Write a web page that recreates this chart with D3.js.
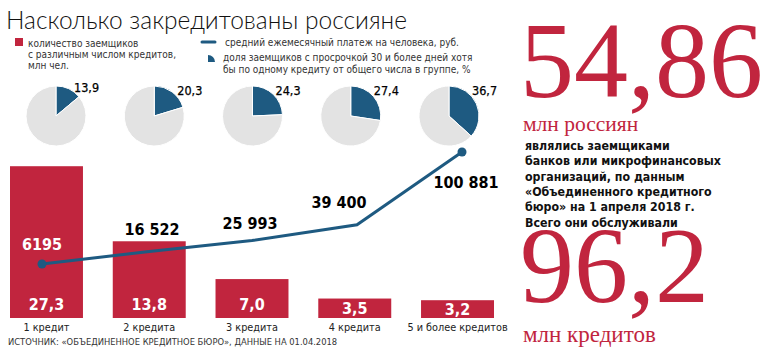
<!DOCTYPE html>
<html><head><meta charset="utf-8">
<script src="https://cdn.jsdelivr.net/npm/d3@7"></script>
<style>
html,body{margin:0;padding:0;background:#fff;}
svg{display:block;}
</style></head>
<body>
<svg id="chart" width="780" height="350"></svg>
<script>
// ---- data ----
const categories = ["1 кредит", "2 кредита", "3 кредита", "4 кредита", "5 и более кредитов"];
const borrowers = [27.3, 13.8, 7.0, 3.5, 3.2];          // млн чел.
const borrowerLabels = ["27,3", "13,8", "7,0", "3,5", "3,2"];
const payments = [6195, 16522, 25993, 39400, 100881];    // руб.
const paymentLabels = ["6195", "16 522", "25 993", "39 400", "100 881"];
const overdue = [13.9, 20.3, 24.3, 27.4, 36.7];          // %
const overdueLabels = ["13,9", "20,3", "24,3", "27,4", "36,7"];

const title = "Насколько закредитованы россияне";
const legendBars = ["количество заемщиков", "с различным числом кредитов,", "млн чел."];
const legendLine = "средний ежемесячный платеж на человека, руб.";
const legendPie = ["доля заемщиков с просрочкой 30 и более дней хотя", "бы по одному кредиту от общего числа в группе, %"];
const source = "ИСТОЧНИК: «ОБЪЕДИНЕННОЕ КРЕДИТНОЕ БЮРО», ДАННЫЕ НА 01.04.2018";
const bigNum1 = "54,86", bigCap1 = "млн россиян";
const bodyText = ["являлись заемщиками", "банков или микрофинансовых", "организаций, по данным", "«Объединенного кредитного", "бюро» на 1 апреля 2018 г.", "Всего они обслуживали"];
const bigNum2 = "96,2", bigCap2 = "млн кредитов";

// ---- style/layout ----
const RED = "#c1253e", BLUE = "#1e5a81", GREY = "#e3e3e3";
const COND = "'DejaVu Sans Condensed', 'DejaVu Sans', sans-serif";
const SERIF = "'Liberation Serif', 'DejaVu Serif', serif";
// label offsets for payment values relative to line points
const payLabelOffset = [[0, -14], [5, -17], [-2, -12], [-18, -17], [4, 36]];

const svg = d3.select("#chart");

// title
svg.append("text").attr("x", 6).attr("y", 29)
  .attr("font-family", "Lato, 'Open Sans', sans-serif").attr("font-weight", 300)
  .attr("font-size", 24.5).attr("fill", "#111").text(title);

// legend
svg.append("rect").attr("x", 15).attr("y", 38).attr("width", 8).attr("height", 8).attr("fill", RED);
legendBars.forEach((t, i) => {
  svg.append("text").attr("x", 28).attr("y", 47 + i * 11)
    .attr("font-family", COND).attr("font-size", 10).attr("fill", "#333").text(t);
});
svg.append("line").attr("x1", 202).attr("x2", 215).attr("y1", 42).attr("y2", 42)
  .attr("stroke", BLUE).attr("stroke-width", 3).attr("stroke-linecap", "round");
svg.append("text").attr("x", 225).attr("y", 46)
  .attr("font-family", COND).attr("font-size", 10).attr("fill", "#333").text(legendLine);
svg.append("path").attr("transform", "translate(208,62)")
  .attr("d", d3.arc()({innerRadius: 0, outerRadius: 7, startAngle: 0, endAngle: Math.PI / 2}))
  .attr("fill", BLUE);
legendPie.forEach((t, i) => {
  svg.append("text").attr("x", 223).attr("y", 61 + i * 12)
    .attr("font-family", COND).attr("font-size", 10).attr("fill", "#333").text(t);
});

// scales
const xBand = d3.scaleBand().domain(categories).range([10, 494]).paddingInner(0.29).paddingOuter(0);
const yBar = d3.scaleLinear().domain([0, 30]).range([318, 151.2]);
const xLine = d3.scalePoint().domain(categories).range([42, 462]);
const yLine = d3.scaleLinear().domain([0, 110000]).range([271.3, 141.2]);
const xPie = d3.scalePoint().domain(categories).range([56, 449]);
const pieCY = 116, pieR = 30;

// pies
const pie = d3.pie().sort(null).value(d => d);
const arc = d3.arc().innerRadius(0).outerRadius(pieR);
categories.forEach((c, i) => {
  const g = svg.append("g").attr("transform", `translate(${xPie(c)},${pieCY})`);
  const arcs = pie([overdue[i], 100 - overdue[i]]);
  g.selectAll("path").data(arcs).join("path")
    .attr("d", arc).attr("fill", (d, j) => j === 0 ? BLUE : GREY)
    .attr("stroke", "#fff").attr("stroke-width", 1);
  g.append("text").attr("x", i === 0 ? 18 : 23).attr("y", i === 0 ? -24 : -21)
    .attr("font-family", COND).attr("font-size", 12.5).attr("fill", "#000")
    .attr("stroke", "#000").attr("stroke-width", 0.25).text(overdueLabels[i]);
});

// bars
svg.selectAll("rect.bar").data(borrowers).join("rect").attr("class", "bar")
  .attr("x", (d, i) => xBand(categories[i])).attr("width", xBand.bandwidth())
  .attr("y", d => yBar(d)).attr("height", d => yBar(0) - yBar(d)).attr("fill", RED);
svg.selectAll("text.barlab").data(borrowers).join("text").attr("class", "barlab")
  .attr("x", (d, i) => xBand(categories[i]) + xBand.bandwidth() / 2)
  .attr("y", d => Math.max(yBar(d) + 15, yBar(0) - 8))
  .attr("text-anchor", "middle").attr("font-family", COND).attr("font-weight", "bold")
  .attr("font-size", 16).attr("fill", "#fff").text((d, i) => borrowerLabels[i]);

// category labels
svg.selectAll("text.cat").data(categories).join("text").attr("class", "cat")
  .attr("x", d => xBand(d) + xBand.bandwidth() / 2).attr("y", 331)
  .attr("text-anchor", "middle").attr("font-family", COND).attr("font-size", 10.8)
  .attr("fill", "#222").text(d => d);

// line
const linePts = payments.map((v, i) => [xLine(categories[i]), yLine(v)]);
svg.append("path").attr("d", d3.line()(linePts)).attr("fill", "none")
  .attr("stroke", BLUE).attr("stroke-width", 3);
[0, payments.length - 1].forEach(i => {
  svg.append("circle").attr("cx", linePts[i][0]).attr("cy", linePts[i][1]).attr("r", 4.5).attr("fill", BLUE);
});
payments.forEach((v, i) => {
  svg.append("text").attr("x", linePts[i][0] + payLabelOffset[i][0]).attr("y", linePts[i][1] + payLabelOffset[i][1])
    .attr("text-anchor", "middle").attr("font-family", COND).attr("font-weight", "bold")
    .attr("font-size", 16).attr("fill", i === 0 ? "#fff" : "#000").text(paymentLabels[i]);
});

// source
svg.append("text").attr("x", 8).attr("y", 345).attr("font-family", COND).attr("font-size", 9.3)
  .attr("fill", "#333").text(source);

// right panel
svg.append("text").attr("x", 520).attr("y", 97).attr("font-family", SERIF).attr("font-size", 108)
  .attr("fill", RED).text(bigNum1);
svg.append("text").attr("x", 523).attr("y", 131).attr("font-family", SERIF).attr("font-size", 21.5)
  .attr("fill", RED).text(bigCap1);
bodyText.forEach((t, i) => {
  svg.append("text").attr("x", 525).attr("y", 150 + i * 15.3).attr("font-family", COND)
    .attr("font-weight", "bold").attr("font-size", 12.3).attr("fill", "#111").text(t);
});
svg.append("text").attr("x", 520).attr("y", 302).attr("font-family", SERIF).attr("font-size", 108)
  .attr("fill", RED).text(bigNum2);
svg.append("text").attr("x", 523).attr("y", 342).attr("font-family", SERIF).attr("font-size", 23)
  .attr("fill", RED).text(bigCap2);
</script>
</body></html>
